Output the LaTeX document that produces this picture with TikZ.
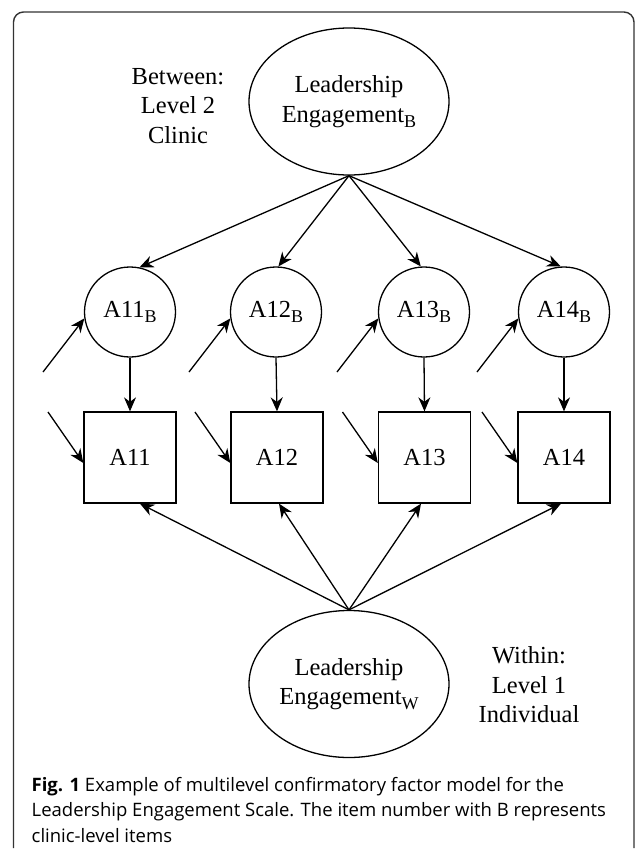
\documentclass[tikz,border=0pt]{standalone}
\usepackage{fontspec}
\setmainfont{Liberation Serif}
\newfontfamily\capfont{Open Sans}
\usetikzlibrary{arrows.meta,shapes.geometric,calc}
\newcommand{\sbB}[1]{\raisebox{-5pt}{\fontsize{18}{18}\selectfont #1}}
\begin{document}
\begin{tikzpicture}[x=1pt,y=-1pt,
  lbl/.style={font=\fontsize{24.5}{29.5}\selectfont, align=center},
  latent/.style={ellipse, draw, line width=1.3pt, minimum width=200pt, minimum height=147pt, inner sep=0pt, lbl},
  ind/.style={ellipse, draw, line width=1.3pt, minimum width=91pt, minimum height=90pt, inner sep=0pt, lbl},
  obs/.style={rectangle, draw, line width=1.3pt, minimum width=92pt, minimum height=91pt, inner sep=0pt, lbl},
  arr/.style={line width=1.3pt, -{Stealth[length=14pt,width=12pt,inset=4.5pt]}},
  framestyle/.style={line width=1.4pt, draw=black!80, rounded corners=10pt},
]
\useasboundingbox (0,0) rectangle (635,854);
\draw[framestyle] (13.5,848) -- (13.5,12) -- (634,12) -- (634,848);

\node[latent] (LB) at (349,101.5) {Leadership\\Engagement\sbB{B}};
\node[latent] (LW) at (349,684) {Leadership\\Engagement\sbB{W}};

\node[lbl] (between) at (178,106) {Between:\\Level 2\\Clinic};
\node[lbl] (within) at (529,685) {Within:\\Level 1\\Individual};

\node[ind] (c1) at (130,312) {A11\sbB{B}};
\node[ind] (c2) at (276,312) {A12\sbB{B}};
\node[ind] (c3) at (424,312) {A13\sbB{B}};
\node[ind] (c4) at (564,312) {A14\sbB{B}};

\node[obs] (b1) at (130,457.5) {A11};
\node[obs] (b2) at (277,457.5) {A12};
\node[obs] (b3) at (424.5,457.5) {A13};
\node[obs] (b4) at (564,457.5) {A14};

\draw[arr] (LB.south) -- (c1.78);
\draw[arr] (LB.south) -- (c2.87);
\draw[arr] (LB.south) -- (c3.94);
\draw[arr] (LB.south) -- (c4.94);

\foreach \i in {1,2,3,4} {
  \draw[arr] (c\i.south) -- (b\i.north);
  \coordinate (rc\i) at ($(c\i.center)+(-87,60)$);
  \draw[arr] (rc\i) -- (c\i.188);
  \coordinate (rb\i) at ($(b\i.center)+(-82,-45.5)$);
  \draw[arr] (rb\i) -- ([yshift=-5.5pt]b\i.west);
}

\draw[arr] (LW.north) -- ([xshift=10pt]b1.south);
\draw[arr] (LW.north) -- ([xshift=2pt]b2.south);
\draw[arr] (LW.north) -- ([xshift=-3.5pt]b3.south);
\draw[arr] (LW.north) -- ([xshift=-3pt]b4.south);

\node[anchor=north west, align=left, inner sep=0pt,
  font=\capfont\fontsize{18.5}{25.5}\selectfont] (cap) at (31.5,777)
  {\textbf{Fig. 1} Example of multilevel confirmatory factor model for the\\
   Leadership Engagement Scale. The item number with B represents\\
   clinic-level items};
\end{tikzpicture}
\end{document}
